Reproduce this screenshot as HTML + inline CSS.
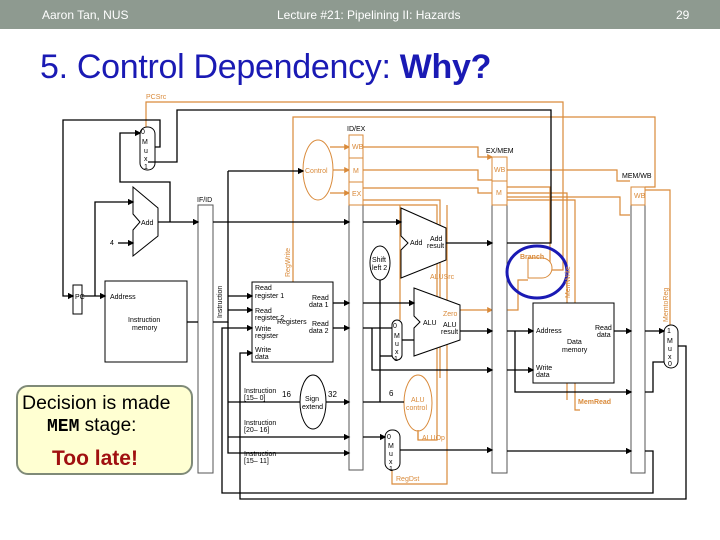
<!DOCTYPE html>
<html><head><meta charset="utf-8"><style>
body{margin:0;width:720px;height:540px;background:#fff;overflow:hidden;position:relative;font-family:"Liberation Sans",sans-serif}
.hdr{position:absolute;left:0;top:0;width:720px;height:29px;background:#8e9a90;color:#fff;font-size:12px}
.hdr span{position:absolute;top:8px}
.title{position:absolute;left:40px;top:48px;font-size:34px;color:#1a1ab4;letter-spacing:-0.3px}
svg{position:absolute;left:0;top:0}
.note{position:absolute;left:16px;top:385px;width:177px;height:90px;border:2px solid #7f8a78;border-radius:12px;background:#ffffd2;box-sizing:border-box}
</style></head><body>
<div class="hdr"><span style="left:42px">Aaron Tan, NUS</span><span style="left:277px">Lecture #21: Pipelining II: Hazards</span><span style="left:676px">29</span></div>
<div class="title">5. Control Dependency: <b>Why?</b></div>
<svg width="720" height="540" font-family="Liberation Sans, sans-serif" font-size="7">
<defs><marker id="a" markerWidth="5" markerHeight="5" refX="4" refY="2.5" orient="auto"><path d="M0,0L5,2.5L0,5z" fill="#000"/></marker>
<marker id="o" markerWidth="5" markerHeight="5" refX="4" refY="2.5" orient="auto"><path d="M0,0L5,2.5L0,5z" fill="#d98a3a"/></marker></defs>
<g fill="none" stroke="#d98a3a" stroke-width="1.2">
<path d="M146,127V102H563V270H552"/>
<path d="M293,283V117H655V187H645"/>
<path d="M330,147H349" marker-end="url(#o)"/><path d="M333,170H349" marker-end="url(#o)"/><path d="M330,193H349" marker-end="url(#o)"/>
<path d="M363,147H478V157H492" marker-end="url(#o)"/>
<path d="M363,170H478V180H492"/>
<path d="M363,188H478V193H492"/>
<path d="M507,170H617V181H630"/>
<path d="M507,187H550V263H528"/>
<path d="M507,197H620V215H630"/>
<path d="M507,193H567V400"/>
<path d="M363,200H440V378"/>
<path d="M363,205H437V440H418V430"/>
<path d="M400,205V320"/>
<path d="M460,310H492" marker-end="url(#o)"/><path d="M507,310H518V280H528"/>
<path d="M507,200H575V410H580"/>
<path d="M645,190H670V325"/>
<path d="M418,432V440"/>
<path d="M392,470V484H447V205"/>
</g>
<ellipse cx="318" cy="170" rx="15" ry="30" fill="none" stroke="#d98a3a"/>
<ellipse cx="418" cy="403" rx="14" ry="28" fill="none" stroke="#d98a3a"/>
<path d="M528,258H542A10,10 0 0 1 542,278H528Z" fill="#fff" stroke="#d98a3a"/>
<g fill="#fff" stroke="#000" stroke-width="1">
<rect x="198" y="205" width="15" height="268" stroke="#555"/>
<rect x="349" y="205" width="14" height="265" stroke="#555"/>
<rect x="492" y="205" width="15" height="268" stroke="#555"/>
<rect x="631" y="205" width="14" height="268" stroke="#555"/>
<rect x="73" y="285" width="9" height="29"/>
<rect x="105" y="281" width="82" height="81"/>
<rect x="252" y="282" width="81" height="80"/>
<rect x="533" y="303" width="81" height="80"/>
<rect x="140" y="127" width="15" height="43" rx="7"/>
<rect x="392" y="320" width="10" height="40" rx="5"/>
<rect x="385" y="430" width="15" height="40" rx="7"/>
<rect x="664" y="325" width="14" height="43" rx="7"/>
<path d="M133,187L158,208V236L133,256V230L140,222L133,214Z"/>
<path d="M401,208L446,228V260L401,278V250L408,243L401,236Z"/>
<path d="M414,288L460,305V340L414,356V328L420,322L414,316Z"/>
<ellipse cx="380" cy="263" rx="10" ry="17"/>
<ellipse cx="313" cy="402" rx="13" ry="27"/>
</g>
<g fill="#fff" stroke="#d98a3a"><rect x="349" y="135" width="14" height="23"/><rect x="349" y="158" width="14" height="24"/><rect x="349" y="182" width="14" height="23"/>
<rect x="492" y="157" width="15" height="24"/><rect x="492" y="181" width="15" height="24"/><rect x="631" y="187" width="14" height="18"/></g>
<g fill="none" stroke="#000" stroke-width="1.3">
<path d="M155,147H160V120H63V296H73" marker-end="url(#a)"/>
<path d="M148,162H177V110H551V243H507"/>
<path d="M158,222H198" marker-end="url(#a)"/><path d="M170,222V182H120V133H140" marker-end="url(#a)"/>
<path d="M82,296H105" marker-end="url(#a)"/><path d="M95,296V202H133" marker-end="url(#a)"/>
<path d="M118,243H133" marker-end="url(#a)"/>
<path d="M187,322H198"/>
<path d="M213,222H349" marker-end="url(#a)"/><path d="M363,222H401" marker-end="url(#a)"/>
<path d="M228,171H303" marker-end="url(#a)"/>
<path d="M213,322H228V171"/><path d="M228,296H252" marker-end="url(#a)"/><path d="M228,310H252" marker-end="url(#a)"/>
<path d="M228,322V453H349" marker-end="url(#a)"/><path d="M228,402H300"/><path d="M228,437H349" marker-end="url(#a)"/>
<path d="M333,303H349" marker-end="url(#a)"/><path d="M333,328H349" marker-end="url(#a)"/>
<path d="M326,402H349" marker-end="url(#a)"/>
<path d="M363,303H414" marker-end="url(#a)"/><path d="M363,402H380V280"/><path d="M380,402H404"/>
<path d="M380,356H392"/><path d="M372,328H392"/><path d="M372,328V370H492" marker-end="url(#a)"/>
<path d="M363,328H372"/><path d="M363,437H385" marker-end="url(#a)"/>
<path d="M400,450H492" marker-end="url(#a)"/>
<path d="M446,243H492" marker-end="url(#a)"/>
<path d="M402,340H414"/>
<path d="M460,331H492" marker-end="url(#a)"/>
<path d="M507,331H533" marker-end="url(#a)"/><path d="M515,331V392H631" marker-end="url(#a)"/>
<path d="M507,370H533" marker-end="url(#a)"/>
<path d="M614,331H631" marker-end="url(#a)"/><path d="M645,331H664" marker-end="url(#a)"/>
<path d="M645,392H653V362H664"/>
<path d="M507,451H631" marker-end="url(#a)"/>
<path d="M645,451H653V493H222V328H252" marker-end="url(#a)"/>
<path d="M678,346H686V499H240V353H252" marker-end="url(#a)"/>
</g>
<ellipse cx="537" cy="272" rx="30" ry="26" fill="none" stroke="#1a1ab4" stroke-width="3"/>
<g fill="#000">
<text x="141" y="134">0</text><text x="142" y="144">M</text><text x="144" y="153">u</text><text x="144" y="161">x</text><text x="144" y="169">1</text>
<text x="141" y="225">Add</text><text x="110" y="245">4</text>
<text x="75" y="299">PC</text><text x="110" y="299">Address</text>
<text x="128" y="322">Instruction</text><text x="132" y="330">memory</text>
<text x="197" y="202">IF/ID</text><text x="347" y="131">ID/EX</text><text x="486" y="153">EX/MEM</text><text x="622" y="178">MEM/WB</text>
<text x="255" y="290">Read</text><text x="255" y="298">register 1</text><text x="255" y="313">Read</text><text x="255" y="320">register 2</text>
<text x="255" y="331">Write</text><text x="255" y="338">register</text><text x="255" y="352">Write</text><text x="255" y="359">data</text>
<text x="312" y="300">Read</text><text x="309" y="307">data 1</text><text x="277" y="324">Registers</text><text x="312" y="326">Read</text><text x="309" y="333">data 2</text>
<text x="410" y="245">Add</text><text x="430" y="241">Add</text><text x="427" y="248">result</text>
<text x="372" y="262">Shift</text><text x="372" y="270">left 2</text>
<text x="423" y="325">ALU</text><text x="443" y="327">ALU</text><text x="441" y="334">result</text>
<text x="393" y="328">0</text><text x="394" y="338">M</text><text x="395" y="346">u</text><text x="395" y="354">x</text><text x="394" y="361">1</text>
<text x="536" y="333">Address</text><text x="567" y="344">Data</text><text x="562" y="352">memory</text>
<text x="595" y="330">Read</text><text x="597" y="337">data</text><text x="536" y="370">Write</text><text x="536" y="377">data</text>
<text x="667" y="333">1</text><text x="667" y="343">M</text><text x="668" y="351">u</text><text x="668" y="359">x</text><text x="668" y="366">0</text>
<text x="244" y="393">Instruction</text><text x="244" y="400">[15– 0]</text><text x="282" y="397" font-size="8">16</text><text x="328" y="397" font-size="8">32</text>
<text x="305" y="401">Sign</text><text x="302" y="409">extend</text><text x="389" y="396" font-size="8">6</text>
<text x="244" y="425">Instruction</text><text x="244" y="432">[20– 16]</text><text x="244" y="456">Instruction</text><text x="244" y="463">[15– 11]</text>
<text x="387" y="439">0</text><text x="388" y="448">M</text><text x="389" y="456">u</text><text x="389" y="464">x</text><text x="389" y="471">1</text>
<text transform="translate(222,318) rotate(-90)">Instruction</text>
</g>
<g fill="#d98a3a">
<text x="146" y="99">PCSrc</text><text x="352" y="149">WB</text><text x="353" y="173">M</text><text x="352" y="196">EX</text>
<text x="494" y="172">WB</text><text x="496" y="195">M</text><text x="634" y="198">WB</text>
<text x="305" y="173">Control</text><text x="430" y="279">ALUSrc</text><text x="443" y="316">Zero</text>
<text x="520" y="259" font-weight="bold">Branch</text><text x="578" y="404" font-weight="bold">MemRead</text>
<text x="411" y="402">ALU</text><text x="406" y="410">control</text><text x="422" y="440">ALUOp</text><text x="396" y="481">RegDst</text>
<text transform="translate(290,277) rotate(-90)">RegWrite</text><text transform="translate(570,298) rotate(-90)">MemWrite</text><text transform="translate(668,322) rotate(-90)">MemtoReg</text>
</g>
</svg>
<div class="note">
<div style="position:absolute;left:4px;top:5px;font-size:19.5px;color:#000">Decision is made</div>
<div style="position:absolute;left:29px;top:28px;font-size:19px;color:#000"><span style="font-family:'Liberation Mono',monospace;font-weight:bold;font-size:18px">MEM</span> stage:</div>
<div style="position:absolute;left:34px;top:60px;font-size:21px;font-weight:bold;color:#a01010">Too late!</div>
</div>
</body></html>
